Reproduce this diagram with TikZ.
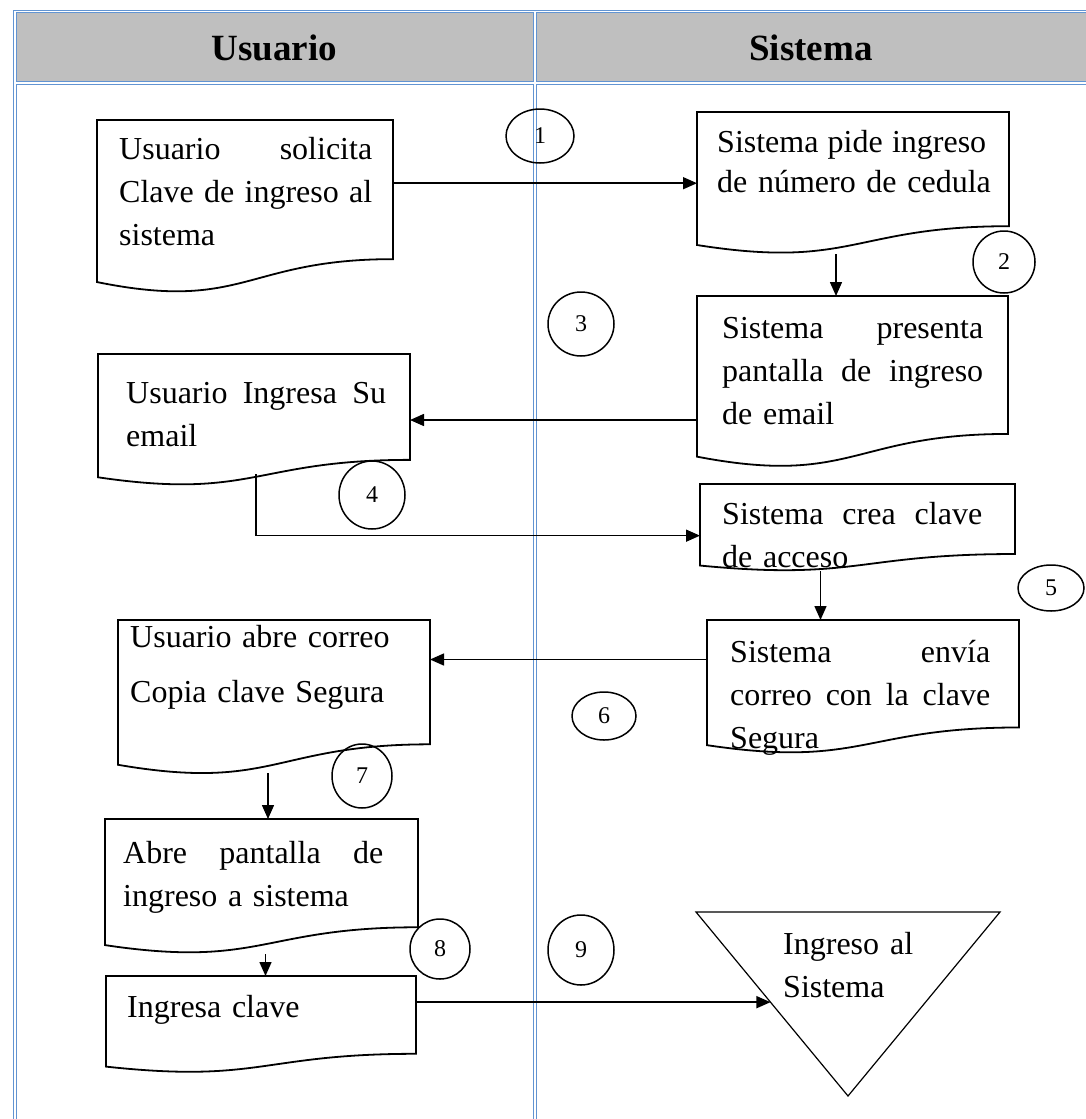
\documentclass[tikz,border=0pt]{standalone}
\usepackage{fontspec}
\setmainfont{Liberation Serif}
\usetikzlibrary{calc,arrows.meta,shapes.geometric}
\definecolor{celdaazul}{RGB}{98,148,210}
\definecolor{celdagris}{RGB}{191,191,191}

% linea justificada a un ancho dado
\newcommand\justa[2]{\leavevmode\hbox to #1pt{\spaceskip=0.25em plus 1fil\relax #2}}

% contorno de documento, borde inferior ondulado
\newcommand\documento[1]{%
  \draw[linea] let \p1=(#1.north west), \p2=(#1.south east) in
    (\p1) -- (\x1,{(\y1)+0.934*((\y2)-(\y1))})
    .. controls ({((\x1)+(\x2))/2},{(\y1)+1.1075*((\y2)-(\y1))}) and ({((\x1)+(\x2))/2},{(\y1)+0.802*((\y2)-(\y1))})
    .. (\x2,{(\y1)+0.802*((\y2)-(\y1))}) -- (\x2,\y1) -- cycle;}

\begin{document}
\begin{tikzpicture}[x=1pt,y=-1pt,
    linea/.style={line width=1.8pt},
    tabla/.style={draw=celdaazul, line width=1pt},
    caja/.style={rectangle, inner sep=0pt, outer sep=0pt, anchor=north west},
    texto/.style={inner sep=0pt, anchor=base west, text width=320, align=left, font=\fontsize{32}{43}\selectfont},
    cabecera/.style={inner sep=0pt, anchor=base, font=\bfseries\fontsize{37}{44}\selectfont},
    paso/.style={ellipse, draw, line width=1.5pt, inner sep=0pt, font=\fontsize{24}{28}\selectfont},
    flecha/.style={line width=1.5pt, -{Triangle[length=14pt,width=12pt]}}]
    \useasboundingbox (0,0) rectangle (1086,1119);

    % tabla
    \fill[celdagris] (16,12.7) rectangle (533.3,81.3) (536,12.7) rectangle (1095,81.3);
    \draw[tabla] (16,12.7) rectangle (533.3,81.3);
    \draw[tabla] (536,12.7) rectangle (1095,81.3);
    \draw[tabla] (16,84) rectangle (533.3,1130);
    \draw[tabla] (536,84) rectangle (1095,1130);
    \draw[tabla] (13.3,1130) -- (13.3,10) -- (1095,10);
    \node[cabecera] (hu) at (274.5,60) {Usuario};
    \node[cabecera] (hs) at (811,60) {Sistema};

    % cajas
    \node[caja, minimum width=296, minimum height=173.5] (b1) at (97,120) {};
    \node[caja, minimum width=312, minimum height=142.4] (b2) at (697,112) {};
    \node[caja, minimum width=311, minimum height=172] (b3) at (697,296) {};
    \node[caja, minimum width=312, minimum height=132] (b4) at (98,354) {};
    \node[caja, minimum width=315, minimum height=87.3] (b5) at (700,484) {};
    \node[caja, minimum width=312, minimum height=134] (b6) at (707,620) {};
    \node[caja, minimum width=312, minimum height=155] (b7) at (118,620) {};
    \node[caja, minimum width=313, minimum height=135] (b8) at (105,819) {};
    \node[caja, minimum width=310, minimum height=97] (b9) at (106,976) {};
    \node[caja, minimum width=304, minimum height=184] (fin) at (696,912) {};
    \documento{b1}
    \documento{b2}
    \documento{b3}
    \documento{b4}
    \documento{b5}
    \documento{b6}
    \documento{b7}
    \documento{b8}
    \documento{b9}
    \draw[line width=1.2pt] (fin.north west) -- (fin.north east) -- (fin.south) -- cycle;

    % textos
    \node[texto] (t1) at (119,159) {\justa{253}{Usuario solicita}\\ \justa{253}{Clave de ingreso al}\\ sistema};
    \node[texto] (t2) at (717,152) {\justa{269}{Sistema pide ingreso}\\[-3pt] de número de cedula};
    \node[texto] (t3) at (722,338) {\justa{261}{Sistema presenta}\\ \justa{261}{pantalla de ingreso}\\ de email};
    \node[texto] (t4) at (126,403) {\justa{260}{Usuario Ingresa Su}\\ email};
    \node[texto] (t5) at (722,524) {\justa{260}{Sistema crea clave}\\ de acceso};
    \node[texto] (t6) at (730,662) {\justa{260}{Sistema envía}\\ \justa{260}{correo con la clave}\\ Segura};
    \node[texto] (t7) at (130,647) {Usuario abre correo\\[12pt]Copia clave Segura};
    \node[texto] (t8) at (123,863) {\justa{260}{Abre pantalla de}\\ ingreso a sistema};
    \node[texto] (t9) at (127,1017) {Ingresa clave};
    \node[texto] (t10) at (783,954) {\justa{130}{Ingreso al}\\ Sistema};

    % pasos
    \node[paso, minimum width=68, minimum height=54] (c1) at (540,136) {1};
    \node[paso, minimum width=62, minimum height=62] (c2) at (1004,262) {2};
    \node[paso, minimum width=66, minimum height=64] (c3) at (581,324) {3};
    \node[paso, minimum width=66, minimum height=68] (c4) at (372,495) {4};
    \node[paso, minimum width=66, minimum height=46] (c5) at (1051,588) {5};
    \node[paso, minimum width=64, minimum height=48] (c6) at (604,716) {6};
    \node[paso, minimum width=60, minimum height=64] (c7) at (362,776) {7};
    \node[paso, minimum width=60, minimum height=60] (c8) at (440,949) {8};
    \node[paso, minimum width=66, minimum height=70] (c9) at (581,950) {9};

    % conectores
    \coordinate (p2) at ($(b2.south)+(-17,0)$);
    \coordinate (p4) at ($(b4.south)+(2,-12)$);
    \coordinate (q4) at ($(b5.west)+(0,8)$);
    \coordinate (p5) at ($(b5.south)+(-37,0)$);
    \coordinate (p6) at ($(b7.east)+(0,-38)$);
    \coordinate (p7) at ($(b7.south)+(-6,-2)$);
    \coordinate (p8) at ($(b8.south)+(4,0)$);
    \coordinate (p9) at ($(fin.north west)!0.49!(fin.south)$);
    \draw[flecha] (b1.east |- b2.west) -- (b2.west);
    \draw[flecha] (p2) -- (p2 |- b3.north);
    \draw[flecha] (b3.west |- b4.east) -- (b4.east);
    \draw[flecha] (p4) |- (q4);
    \draw[flecha] (p5) -- (p5 |- b6.north);
    \draw[flecha] (b6.west |- p6) -- (p6);
    \draw[flecha] (p7) -- (p7 |- b8.north);
    \draw[flecha] (p8) -- (p8 |- b9.north);
    \draw[flecha] (b9.east |- p9) -- (p9);
\end{tikzpicture}
\end{document}
